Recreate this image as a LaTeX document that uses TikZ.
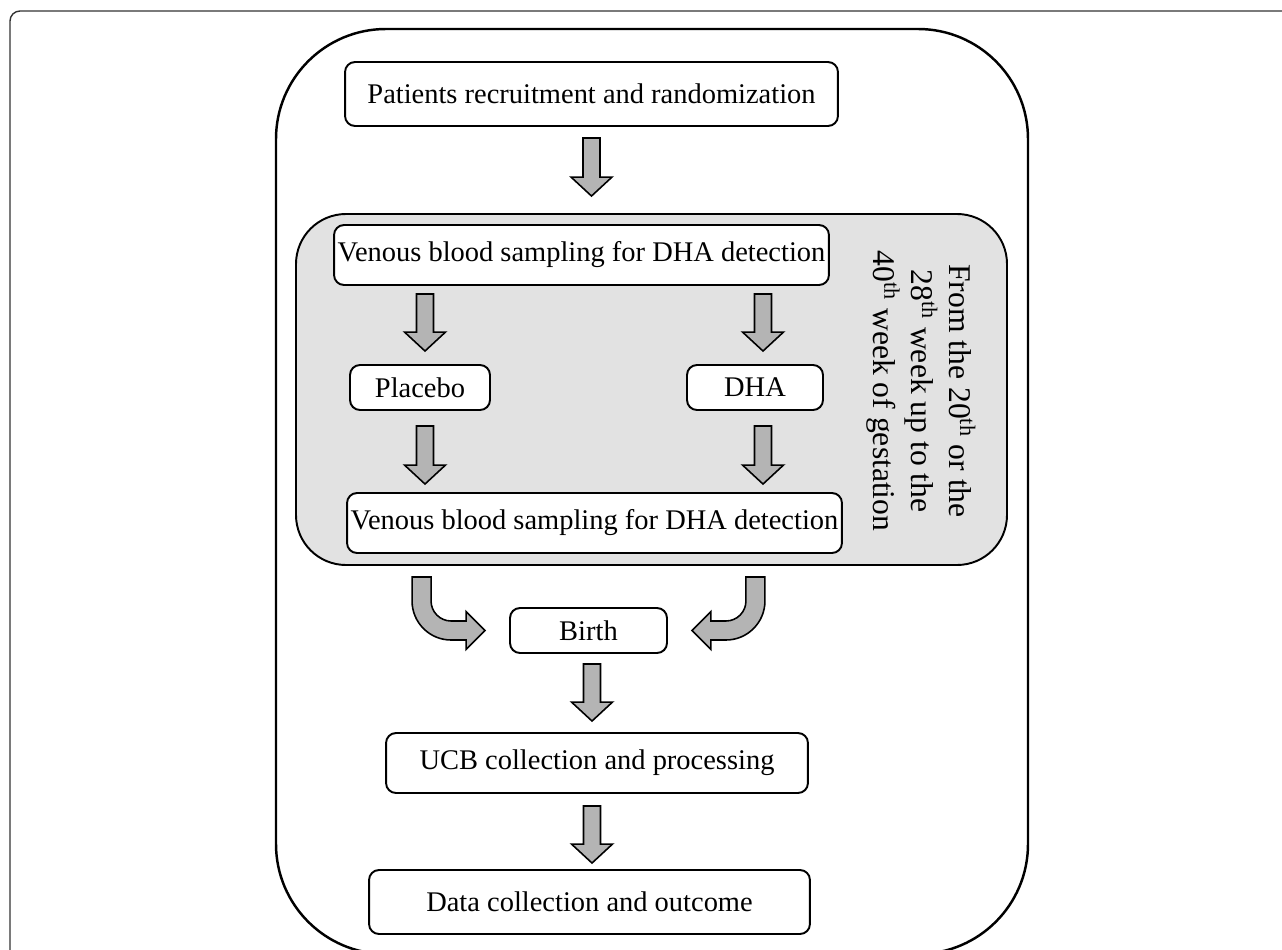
\documentclass[tikz,border=0pt]{standalone}
\usepackage{fontspec}
\setmainfont{Liberation Serif}
\usetikzlibrary{calc}
\definecolor{panelgray}{HTML}{E2E2E2}
\definecolor{arrowgray}{HTML}{B4B4B4}
\tikzset{
  bx/.style={draw=black, line width=1.1pt, rounded corners=0.2cm, fill=white,
    inner sep=0pt, font=\fontsize{16.2}{20}\selectfont},
  blk/.style={draw=black, line width=0.9pt, fill=arrowgray, line join=miter},
}
\newcommand\blkdown[2]{%
  \draw[blk] let \p1=#1, \p2=#2 in
   (\x1-4.84pt,\y1) -- (\x1+4.84pt,\y1) -- (\x1+4.84pt,\y2+10.8pt) --
   (\x1+11.66pt,\y2+10.8pt) -- (\x1,\y2) -- (\x1-11.66pt,\y2+10.8pt) --
   (\x1-4.84pt,\y2+10.8pt) -- cycle;}
\newcommand\bentpath{%
  \draw[blk] (-97,-53.5) -- (-78,-53.5) -- (-78,-29.5)
    .. controls (-78,-18.5) and (-69,-9.5) .. (-58,-9.5) -- (-43,-9.5) -- (-43,-19)
    -- (-24,0) -- (-43,19) -- (-43,9.5) -- (-58,9.5)
    .. controls (-79.5,9.5) and (-97,-8) .. (-97,-29.5) -- cycle;}
\begin{document}
\begin{tikzpicture}[x=0.02cm,y=-0.02cm]
\useasboundingbox (0,0) rectangle (1282,950);
\clip (0,0) rectangle (1282,950);
% outer frame
\draw[line width=0.8pt, draw=black!80, rounded corners=0.2cm] (10,11) rectangle (1320,1000);
% inner big frame
\draw[line width=1.4pt, rounded corners=2.2cm] (276,29) rectangle (1028,954);
% gray panel
\draw[line width=1.1pt, fill=panelgray, rounded corners=1cm] (296,214) rectangle (1007,565);
% nodes
\node[bx, minimum width=9.86cm, minimum height=1.28cm] (pat) at (591.5,94) {Patients recruitment and randomization};
\node[bx, minimum width=9.9cm, minimum height=1.2cm] (v1) at (581.5,255) {Venous blood sampling for DHA detection};
\node[bx, minimum width=2.8cm, minimum height=0.9cm] (pl) at (420,387.5) {Placebo};
\node[bx, minimum width=2.72cm, minimum height=0.9cm] (dha) at (755,387.5) {DHA};
\node[bx, minimum width=9.9cm, minimum height=1.2cm] (v2) at (594.5,523) {Venous blood sampling for DHA detection};
\node[bx, minimum width=3.14cm, minimum height=0.9cm] (birth) at (588.5,630.5) {Birth};
\node[bx, minimum width=8.44cm, minimum height=1.2cm] (ucb) at (597,763) {UCB collection and processing};
\node[bx, minimum width=8.82cm, minimum height=1.28cm] (data) at (589.5,902) {Data collection and outcome};
\node[rotate=-90, align=center, inner sep=0pt, font=\fontsize{18}{21.6}\selectfont] (gest) at (921,391)
  {From the 20\textsuperscript{th} or the\\28\textsuperscript{th} week up to the\\40\textsuperscript{th} week of gestation};
% block arrows
\blkdown{($(pat.south)+(0,11)$)}{($(v1.north)+(0,-28)$)}
\blkdown{($(pl.north |- v1.south)+(5,8)$)}{($(pl.north)+(5,-13)$)}
\blkdown{($(dha.north |- v1.south)+(8,8)$)}{($(dha.north)+(8,-13)$)}
\blkdown{($(pl.south)+(5,15)$)}{($(pl.south |- v2.north)+(5,-8)$)}
\blkdown{($(dha.south)+(8,15)$)}{($(dha.south |- v2.north)+(8,-8)$)}
\blkdown{($(birth.south)+(3.5,10)$)}{($(ucb.north)+(-5,-11)$)}
\blkdown{($(ucb.south)+(-5,12)$)}{($(data.north)+(0,-6)$)}
% bent arrows from v2 to birth
\begin{scope}[shift={(birth.west)}]
\bentpath
\end{scope}
\begin{scope}[shift={(birth.east)}, xscale=-1]
\bentpath
\end{scope}
\end{tikzpicture}
\end{document}
